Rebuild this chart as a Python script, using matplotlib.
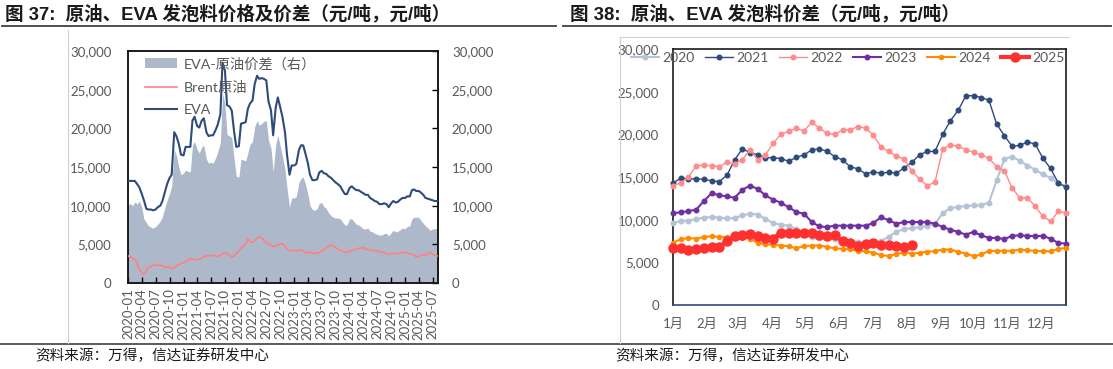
import numpy as np
import pandas as pd
import matplotlib
matplotlib.use('Agg')
import matplotlib.pyplot as plt
import matplotlib.dates as mdates
from matplotlib.ticker import FuncFormatter, FixedLocator
from matplotlib.lines import Line2D
from matplotlib.patches import Patch

plt.rcParams['font.family'] = ['Lato', 'Noto Sans CJK SC', 'DejaVu Sans']

# ---------------- Left chart data (semi-monthly from 2020-01-01, 元/吨) ----------------
eva = [13200, 13200, 13200, 13200, 12800, 12400, 11500, 10700, 9600, 9500,
       9500, 9400, 9500, 9800, 10000, 10600, 11800, 12800, 13600, 14000,
       19500, 19000, 18000, 16600, 16500, 17600, 17600, 17600, 21000, 21500,
       20300, 20100, 21000, 21300, 19500, 19000, 19100, 19100, 19800, 20500,
       21800, 28500, 27500, 23000, 22800, 22300, 19500, 17600, 17700, 20600,
       20700, 20800, 22500, 23200, 23600, 25700, 26800, 26400, 26500, 26400,
       26200, 23500, 22300, 19100, 22700, 24000, 22700, 21500, 19500, 16500,
       14000, 15200, 15200, 15400, 17200, 17800, 17800, 16800, 15500, 14000,
       13300, 13300, 13400, 14300, 14500, 14200, 14100, 13800, 13600, 13300,
       13000, 12800, 12500, 12000, 11500, 11500, 12300, 12500, 12200, 12000,
       12000, 11800, 11600, 11400, 11400, 11000, 10800, 10600, 10500, 10200,
       10200, 10300, 10200, 9800, 10300, 10600, 10400, 10500, 10800, 11000,
       11000, 11200, 11200, 12000, 12100, 11900, 11900, 11700, 11400, 11000,
       10900, 10800, 10700, 10600, 10600]
brent = [3500, 3400, 3200, 3000, 2600, 1700, 1400, 1100, 1600, 2000,
         2200, 2300, 2300, 2300, 2300, 2200, 2000, 2100, 2000, 1900,
         2000, 2200, 2400, 2500, 2600, 2800, 3000, 3100, 3100, 3000,
         3000, 3100, 3200, 3400, 3500, 3500, 3500, 3600, 3500, 3400,
         3600, 3800, 3900, 3800, 3600, 3400, 3500, 3800, 4100, 4500,
         4800, 5000, 5800, 5300, 5300, 5500, 5800, 6000, 5800, 5500,
         5200, 5000, 4900, 4700, 4800, 4900, 5000, 5100, 4800, 4300,
         4200, 4200, 4200, 4200, 4200, 4300, 4100, 3900, 4000, 4000,
         3800, 3900, 3800, 4000, 4100, 4300, 4500, 4700, 4900, 4800,
         4600, 4400, 4200, 4100, 4000, 4000, 4000, 4200, 4300, 4400,
         4500, 4500, 4600, 4400, 4300, 4300, 4200, 4200, 4200, 4000,
         4000, 3900, 3800, 3700, 3800, 3800, 3800, 3800, 3900, 3900,
         4000, 3900, 3800, 3700, 3600, 3400, 3400, 3600, 3700, 3600,
         3800, 4000, 3700, 3600, 3500]
spread = [10000, 10300, 10000, 10500, 10200, 10600, 9800, 8300, 7800, 7400,
          7200, 7100, 7300, 7600, 8000, 8600, 9800, 10700, 11600, 12500,
          17300, 16500, 15000, 14000, 14200, 14600, 14400, 14400, 17800, 18300,
          17300, 16800, 17600, 17800, 16000, 15500, 15600, 15500, 16200, 17000,
          18200, 24500, 23200, 19200, 19000, 18800, 16000, 13800, 13700, 16000,
          15900, 15800, 16800, 17900, 18300, 20200, 21000, 20400, 20600, 20900,
          21000, 18500, 17400, 14400, 17900, 19100, 17700, 16400, 14700, 12200,
          9800, 11000, 11000, 11200, 13000, 13500, 13700, 12900, 11500, 10000,
          9500, 9400, 9600, 10300, 10400, 9900, 9600, 9100, 8700, 8500,
          8400, 8400, 8300, 7900, 7500, 7500, 8300, 8300, 7900, 7600,
          7500, 7300, 7000, 7000, 7100, 6700, 6600, 6400, 6300, 6200,
          6200, 6400, 6400, 6100, 6500, 6800, 6600, 6700, 6900, 7100,
          7000, 7300, 7400, 8300, 8500, 8500, 8500, 8100, 7700, 7400,
          7100, 6800, 7000, 7000, 7100]
left_ticks = ['2020-01', '2020-04', '2020-07', '2020-10', '2021-01', '2021-04', '2021-07',
              '2021-10', '2022-01', '2022-04', '2022-07', '2022-10', '2023-01', '2023-04',
              '2023-07', '2023-10', '2024-01', '2024-04', '2024-07', '2024-10', '2025-01',
              '2025-04', '2025-07']

# ---------------- Right chart data (weekly, 元/吨) ----------------
years = ['2020', '2021', '2022', '2023', '2024', '2025']
y2020 = [9600, 9840, 9900, 10050, 10250, 10300, 10250, 10150, 10200, 10500,
         10700, 10600, 10100, 9600, 9400, 9300, 8900, 8300, 8000, 7900,
         7800, 7700, 7600, 7500, 7400, 7300, 7350, 7500, 8000, 8600,
         8900, 9000, 9100, 9300, 9500, 10770, 11360, 11500, 11600, 11670,
         11670, 12000, 14600, 17100, 17400, 16900, 16340, 15870, 15300, 14900,
         14300, 13900]
y2021 = [14300, 14860, 14780, 14780, 14740, 14550, 14470, 15200, 17000, 18300,
         17860, 17600, 17270, 17270, 17160, 16850, 17300, 17600, 18170, 18300,
         18000, 17400, 17000, 16200, 15950, 15370, 15600, 15450, 15560, 15450,
         16070, 16730, 17600, 18000, 18000, 20000, 21600, 22800, 24500, 24550,
         24300, 24000, 21200, 19850, 18600, 18700, 19100, 18870, 17200, 16000,
         14300, 13800]
y2022 = [14000, 14300, 14980, 16340, 16380, 16340, 16220, 16730, 16540, 17040,
         18200, 17000, 17600, 18950, 20000, 20350, 20700, 20400, 21400, 20740,
         20100, 20000, 20500, 20550, 20900, 20740, 19900, 18500, 18000, 17470,
         17100, 15700, 14750, 14000, 14400, 18300, 18760, 18600, 18200, 17900,
         17600, 17200, 16200, 15760, 13700, 12570, 12570, 11560, 10400, 9800,
         10970, 10800]
y2023 = [10770, 10860, 11000, 11170, 12170, 13100, 12870, 12720, 12570, 13500,
         14000, 13600, 12840, 12340, 11990, 11470, 10900, 10700, 9720, 9200,
         9140, 9300, 9300, 9300, 9300, 9300, 9600, 10300, 9920, 9530,
         9720, 9720, 9720, 9720, 9530, 9140, 8830, 8560, 8250, 8560,
         8170, 7860, 7860, 7740, 8090, 8170, 8090, 8090, 8090, 7780,
         7270, 7200]
y2024 = [7320, 7700, 7860, 7780, 7970, 8050, 7970, 7970, 7900, 7900,
         7780, 7270, 7120, 7040, 6970, 6900, 6650, 6900, 6970, 6970,
         6810, 6650, 6570, 6530, 6340, 6300, 6150, 5840, 5760, 5990,
         6110, 6030, 6110, 6260, 6300, 6500, 6500, 6220, 6030, 5720,
         5920, 6340, 6340, 6340, 6340, 6500, 6420, 6340, 6300, 6300,
         6570, 6690]
y2025 = [6690, 6730, 6420, 6570, 6690, 6810, 6810, 7500, 8050, 8170,
         8370, 8050, 7860, 7780, 8480, 8450, 8450, 8450, 8450, 8170,
         8130, 8170, 7470, 7270, 6880, 7200, 7270, 7000, 7000, 6880,
         6810, 7000]
months = ['1月', '2月', '3月', '4月', '5月', '6月', '7月', '8月', '9月', '10月', '11月', '12月']
month_start_day = [0, 31, 59, 90, 120, 151, 181, 212, 243, 273, 304, 334]

# ---------------- Figure ----------------
W, H = 1113, 369
fig = plt.figure(figsize=(W / 100, H / 100), dpi=100)

def fx(x):
    return x / W

def fy(y):
    return 1 - y / H

TXT = '#595959'
comma = FuncFormatter(lambda v, p: f'{int(v):,}')

# decoration lines
fig.add_artist(Line2D([fx(2), fx(556)], [fy(26), fy(26)], color='#404040', lw=1.3))
fig.add_artist(Line2D([fx(563), fx(1111)], [fy(26), fy(26)], color='#404040', lw=1.3))
fig.add_artist(Line2D([fx(0), fx(1113)], [fy(344), fy(344)], color='#404040', lw=1.2))
fig.add_artist(Line2D([fx(68), fx(68)], [fy(30), fy(343)], color='#d0d0d0', lw=0.8))
fig.add_artist(Line2D([fx(620), fx(620)], [fy(37), fy(343)], color='#d0d0d0', lw=0.8))
fig.add_artist(Line2D([fx(620), fx(1068)], [fy(37), fy(37)], color='#d0d0d0', lw=0.8))

title_font = ['Liberation Sans', 'Noto Sans CJK SC']
fig.text(fx(5), fy(14), '图 37:  原油、EVA 发泡料价格及价差（元/吨，元/吨）', fontsize=13.3,
         fontweight='bold', family=title_font, color='#1a1a1a', va='center', ha='left')
fig.text(fx(570), fy(14), '图 38:  原油、EVA 发泡料价差（元/吨，元/吨）', fontsize=13.3,
         fontweight='bold', family=title_font, color='#1a1a1a', va='center', ha='left')
fig.text(fx(35), fy(356), '资料来源：万得，信达证券研发中心', fontsize=10.5,
         family=['Noto Sans CJK SC'], color='#1a1a1a', va='center', ha='left', style='italic')
fig.text(fx(615), fy(356), '资料来源：万得，信达证券研发中心', fontsize=10.5,
         family=['Noto Sans CJK SC'], color='#1a1a1a', va='center', ha='left', style='italic')

# ---------------- Left chart ----------------
dates = pd.date_range('2020-01-01', periods=len(eva), freq='SMS')
axL = fig.add_axes([fx(128), fy(283), fx(438) - fx(128), fy(51) - fy(283)])
axR = axL.twinx()
axR.fill_between(dates, 0, spread, color='#ADB9CA', lw=0, zorder=1)
axL.set_zorder(axR.get_zorder() + 1)
axL.patch.set_visible(False)
axL.plot(dates, brent, color='#FF8080', lw=1.2, zorder=3)
axL.plot(dates, eva, color='#2F4B7C', lw=1.5, zorder=4)

for a in (axL, axR):
    a.set_ylim(0, 30000)
    a.set_yticks(range(0, 30001, 5000))
    a.yaxis.set_major_formatter(comma)
    a.set_xlim(pd.Timestamp('2020-01-01'), pd.Timestamp('2025-08-06'))
    for s in a.spines.values():
        s.set_color('#1a1a1a')
        s.set_linewidth(1.2)
axL.tick_params(axis='y', length=0, pad=12, labelsize=9.5, labelcolor=TXT)
axR.tick_params(axis='y', direction='in', length=4, width=1, pad=10, labelsize=9.5, labelcolor=TXT)
tick_dates = [pd.Timestamp(t + '-01') for t in left_ticks]
axL.set_xticks(tick_dates)
axL.set_xticklabels(left_ticks, rotation=90)
axL.tick_params(axis='x', direction='in', length=4, width=1, pad=4, labelsize=9.5, labelcolor=TXT)

hL = [Patch(facecolor='#ADB9CA', edgecolor='none'),
      Line2D([], [], color='#FF8080', lw=1.2),
      Line2D([], [], color='#2F4B7C', lw=1.5)]
legL = axL.legend(hL, ['EVA-原油价差（右）', 'Brent原油', 'EVA'], loc='upper left',
                  bbox_to_anchor=(0.055, 0.975), frameon=False, fontsize=10.3,
                  handlelength=2.2, handletextpad=0.5, labelspacing=0.72, borderpad=0,
                  borderaxespad=0)
for t in legL.get_texts():
    t.set_color(TXT)

# ---------------- Right chart ----------------
ax2 = fig.add_axes([fx(673), fy(305), fx(1066) - fx(673), fy(49) - fy(305)])
styles = {
    '2020': dict(color='#B4C3D6', lw=1.5, ms=3.3),
    '2021': dict(color='#2F4B7C', lw=1.0, ms=3.3),
    '2022': dict(color='#FF8B8B', lw=1.0, ms=3.3),
    '2023': dict(color='#7030A0', lw=1.5, ms=3.3),
    '2024': dict(color='#FF8C00', lw=1.5, ms=3.0),
    '2025': dict(color='#FF3030', lw=3.0, ms=6.5),
}
series = [y2020, y2021, y2022, y2023, y2024, y2025]
for yr, vals in zip(years, series):
    st = styles[yr]
    ax2.plot(range(len(vals)), vals, color=st['color'], lw=st['lw'], marker='o',
             ms=st['ms'], mec=st['color'], mfc=st['color'], label=yr, clip_on=False,
             zorder=5 if yr == '2025' else 3)
ax2.set_xlim(0, 51)
ax2.set_ylim(0, 30000)
ax2.set_yticks(range(0, 30001, 5000))
ax2.yaxis.set_major_formatter(comma)
ax2.xaxis.set_major_locator(FixedLocator([d / 7 for d in month_start_day]))
ax2.set_xticklabels(months)
ax2.tick_params(axis='both', length=0, labelsize=9.5, labelcolor=TXT)
ax2.tick_params(axis='y', pad=10)
ax2.tick_params(axis='x', pad=9)
for s in ax2.spines.values():
    s.set_color('#1a1a1a')
    s.set_linewidth(1.2)
ax2.spines['bottom'].set_color('#2F4B7C')
legR = ax2.legend(loc='center', bbox_to_anchor=(0.445, 0.965), ncol=6, frameon=False,
                  fontsize=10, handlelength=2.0, handletextpad=0.2, columnspacing=0.8,
                  borderpad=0, borderaxespad=0)
for t in legR.get_texts():
    t.set_color(TXT)

fig.savefig('out.png', dpi=100)
